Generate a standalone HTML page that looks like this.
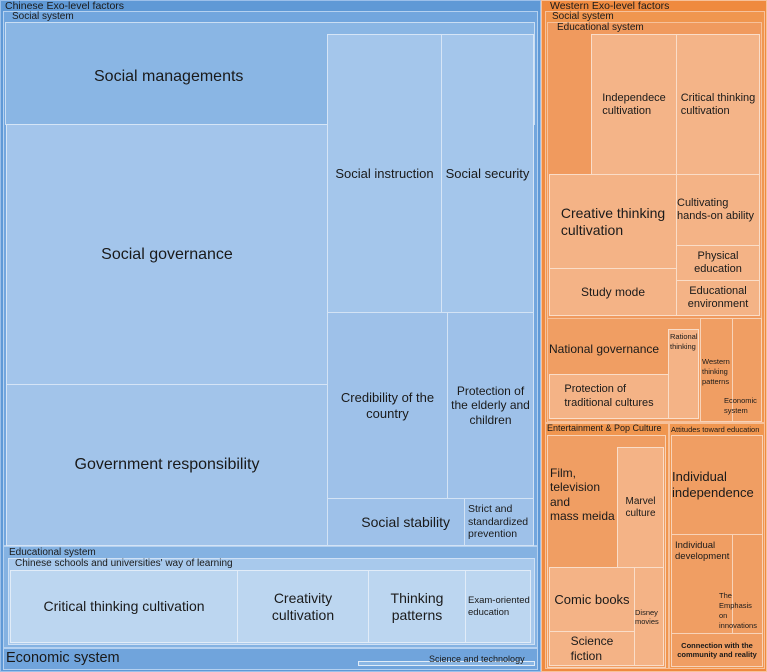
<!DOCTYPE html>
<html><head><meta charset="utf-8">
<style>
body{margin:0;width:767px;height:672px;overflow:hidden;background:#fff;font-family:"Liberation Sans",sans-serif;}
.r{position:absolute;box-sizing:border-box;border:1px solid rgba(255,255,255,0.55);color:#1a1a1a;overflow:hidden;}
.c{display:flex;align-items:center;justify-content:center;text-align:center;line-height:1.2;}
.l{position:absolute;font-size:10px;white-space:nowrap;color:#1a1a1a;}
</style></head><body>
<!-- Chinese -->
<div class="r" style="left:0;top:0;width:541px;height:672px;background:#5f99d6;border-color:#9cc0ea"></div>
<div class="l" style="left:5px;top:0px;font-size:10.5px">Chinese Exo-level factors</div>
<div class="r" style="left:3px;top:11px;width:535px;height:535px;background:#72a6de;border-color:#b5d1f0"></div>
<div class="l" style="left:12px;top:11px">Social system</div>
<div class="r c" style="left:5px;top:22px;width:530px;height:103px;background:#8ab6e4;font-size:16px;justify-content:flex-start;padding-left:88px;align-items:flex-start;padding-top:44px">Social managements</div>
<div class="r c" style="left:6px;top:124px;width:322px;height:261px;background:#a3c5eb;font-size:16px">Social governance</div>
<div class="r c" style="left:6px;top:384px;width:322px;height:162px;background:#a2c4ea;font-size:16px">Government responsibility</div>
<div class="r c" style="left:327px;top:34px;width:115px;height:279px;background:#a4c6eb;font-size:13px">Social instruction</div>
<div class="r c" style="left:441px;top:34px;width:93px;height:279px;background:#a4c6eb;font-size:13px">Social security</div>
<div class="r c" style="left:327px;top:312px;width:121px;height:187px;background:#9ec1e9;font-size:13px">Credibility of the<br>country</div>
<div class="r c" style="left:447px;top:312px;width:87px;height:187px;background:#9ec1e9;font-size:12px">Protection of the elderly and children</div>
<div class="r c" style="left:327px;top:498px;width:138px;height:48px;background:#9ec1e9;font-size:14px;justify-content:flex-end;padding-right:14px">Social stability</div>
<div class="r c" style="left:464px;top:498px;width:70px;height:48px;background:#9ec1e9;font-size:10.5px;text-align:left;justify-content:flex-start;padding-left:3px">Strict and standardized prevention</div>
<div class="r" style="left:3px;top:546px;width:535px;height:102px;background:#84b2e2;border-color:#b5d1f0"></div>
<div class="l" style="left:9px;top:547px">Educational system</div>
<div class="r" style="left:8px;top:558px;width:527px;height:87px;background:#a8c9ec;border-color:#cfe1f5"></div>
<div class="l" style="left:15px;top:558px">Chinese schools and universities' way of learning</div>
<div class="r c" style="left:10px;top:570px;width:228px;height:73px;background:#bcd6f0;font-size:14px">Critical thinking cultivation</div>
<div class="r c" style="left:237px;top:570px;width:132px;height:73px;background:#bcd6f0;font-size:14px">Creativity<br>cultivation</div>
<div class="r c" style="left:368px;top:570px;width:98px;height:73px;background:#bcd6f0;font-size:14px">Thinking<br>patterns</div>
<div class="r c" style="left:465px;top:570px;width:66px;height:73px;background:#bcd6f0;font-size:9.5px;text-align:left;justify-content:flex-start;padding-left:2px">Exam-oriented education</div>
<div class="r" style="left:3px;top:648px;width:535px;height:22px;background:#70a4dc;border-color:#b5d1f0"></div>
<div class="l" style="left:6px;top:650px;font-size:14.5px">Economic system</div>
<div class="r" style="left:358px;top:661px;width:177px;height:5px;background:#8ab6e4;border-color:#e0ecf8"></div>
<div class="l" style="left:429px;top:654px;font-size:9px">Science and technology</div>
<!-- Western -->
<div class="r" style="left:541px;top:0;width:226px;height:672px;background:#ef8a3f;border-color:#f7c19a"></div>
<div class="l" style="left:550px;top:0px;font-size:10.5px">Western  Exo-level factors</div>
<div class="r" style="left:545px;top:11px;width:220px;height:412px;background:#f0964f;border-color:#f7c19a"></div>
<div class="l" style="left:552px;top:11px">Social system</div>
<div class="r" style="left:547px;top:22px;width:215px;height:297px;background:#f09a5e;border-color:#f7c19a"></div>
<div class="l" style="left:557px;top:22px">Educational system</div>
<div class="r c" style="left:591px;top:34px;width:86px;height:142px;background:#f4b488;font-size:11px;text-align:left">Independece<br>cultivation</div>
<div class="r c" style="left:676px;top:34px;width:84px;height:142px;background:#f4b488;font-size:11px;text-align:left">Critical thinking<br>cultivation</div>
<div class="r c" style="left:549px;top:174px;width:128px;height:95px;background:#f4b386;font-size:14px;text-align:left">Creative thinking<br>cultivation</div>
<div class="r c" style="left:549px;top:268px;width:128px;height:48px;background:#f4b386;font-size:12px">Study mode</div>
<div class="r c" style="left:676px;top:174px;width:84px;height:72px;background:#f4b386;font-size:11px;text-align:left">Cultivating hands-on ability</div>
<div class="r c" style="left:676px;top:245px;width:84px;height:36px;background:#f4b386;font-size:11px">Physical education</div>
<div class="r c" style="left:676px;top:280px;width:84px;height:36px;background:#f4b386;font-size:11px">Educational environment</div>
<div class="r" style="left:547px;top:318px;width:154px;height:104px;background:#f09e63;border-color:#f7c19a"></div>
<div class="l" style="left:549px;top:342px;font-size:12px">National governance</div>
<div class="r c" style="left:549px;top:374px;width:120px;height:45px;background:#f4b386;font-size:11px;text-align:left">Protection of<br>traditional cultures</div>
<div class="r" style="left:668px;top:329px;width:31px;height:90px;background:#f4b386;font-size:7.5px;padding:2px 0 0 1px;line-height:1.3">Rational thinking</div>
<div class="r" style="left:700px;top:318px;width:33px;height:104px;background:#f09e63"></div>
<div class="l" style="left:702px;top:357px;font-size:7.5px;line-height:1.3">Western<br>thinking<br>patterns</div>
<div class="r" style="left:732px;top:318px;width:30px;height:104px;background:#f09e63"></div>
<div class="l" style="left:724px;top:396px;font-size:7.5px;line-height:1.3">Economic<br>system</div>
<div class="r" style="left:545px;top:423px;width:124px;height:246px;background:#f0964f;border-color:#f7c19a"></div>
<div class="l" style="left:547px;top:423px;font-size:9px">Entertainment &amp; Pop Culture</div>
<div class="r" style="left:547px;top:435px;width:119px;height:233px;background:#f09e63;font-size:12px;padding:30px 0 0 2px;line-height:1.2">Film,<br>television<br>and<br>mass meida</div>
<div class="r c" style="left:617px;top:447px;width:47px;height:121px;background:#f4b386;font-size:10px">Marvel culture</div>
<div class="r c" style="left:549px;top:567px;width:86px;height:65px;background:#f4b386;font-size:13px">Comic books</div>
<div class="r c" style="left:549px;top:631px;width:86px;height:35px;background:#f4b386;font-size:12px;text-align:left">Science<br>fiction</div>
<div class="r c" style="left:634px;top:567px;width:30px;height:99px;background:#f4b386;font-size:7.5px;text-align:left">Disney movies</div>
<div class="r" style="left:669px;top:423px;width:96px;height:246px;background:#f0964f;border-color:#f7c19a"></div>
<div class="l" style="left:671px;top:425px;font-size:7.5px">Attitudes toward  education</div>
<div class="r c" style="left:671px;top:435px;width:92px;height:100px;background:#f09e63;font-size:13px;text-align:left">Individual independence</div>
<div class="r" style="left:671px;top:534px;width:62px;height:100px;background:#f09e63;font-size:9.5px;padding:5px 0 0 3px;line-height:1.2;overflow:visible">Individual development</div>
<div class="r" style="left:732px;top:534px;width:31px;height:100px;background:#f09e63"></div>
<div class="l" style="left:719px;top:591px;font-size:7.5px;line-height:1.35">The<br>Emphasis<br>on<br>innovations</div>
<div class="r c" style="left:671px;top:633px;width:92px;height:34px;background:#f09e63;font-size:7.5px;font-weight:bold">Connection with the community and reality</div>
</body></html>
